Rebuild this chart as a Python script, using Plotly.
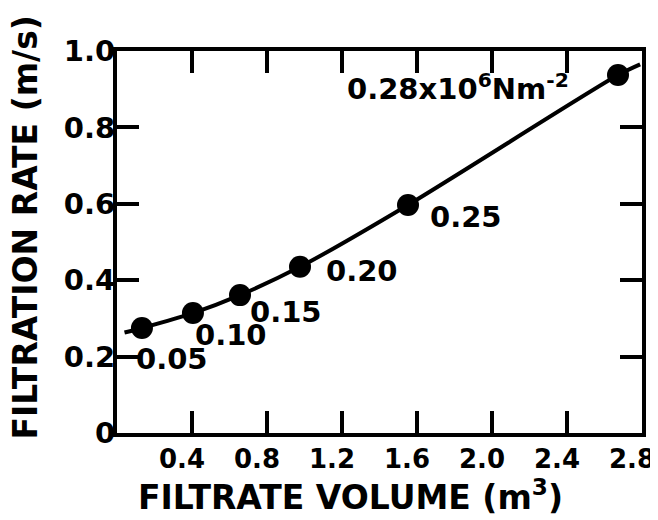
import plotly.graph_objects as go

# Data
volume = [0.133, 0.405, 0.656, 0.976, 1.552, 2.672]          # m3
rate = [0.275, 0.314, 0.361, 0.435, 0.597, 0.937]            # m/s
pressure_labels = ["0.05", "0.10", "0.15", "0.20", "0.25",
                   "0.28x10<sup>6</sup>Nm<sup>-2</sup>"]

# Smooth fitted curve (drawn through the points, extended slightly at both ends)
curve_x = [0.04, 0.133, 0.405, 0.656, 0.976, 1.552, 2.672, 2.79]
curve_y = [0.263, 0.275, 0.314, 0.361, 0.435, 0.597, 0.937, 0.965]

x_ticks = [0.4, 0.8, 1.2, 1.6, 2.0, 2.4, 2.8]
x_ticktext = ["0.4", "0.8", "1.2", "1.6", "2.0", "2.4", "2.8"]
y_ticks = [0, 0.2, 0.4, 0.6, 0.8, 1.0]
y_ticktext = ["0", "0.2", "0.4", "0.6", "0.8", "1.0"]

FONT = "DejaVu Sans"

fig = go.Figure()
fig.add_trace(go.Scatter(x=curve_x, y=curve_y, mode="lines",
                         line=dict(color="black", width=4, shape="spline", smoothing=0.8),
                         hoverinfo="skip", showlegend=False))
fig.add_trace(go.Scatter(x=volume, y=rate, mode="markers",
                         marker=dict(color="black", size=22),
                         showlegend=False))

# label offsets (pixels) relative to each point: (xshift, yshift)
offsets = [(30, -31), (38, -22), (46, -17), (62, -4), (58, -12), (-160, -12)]
for xv, yv, lab, (dx, dy) in zip(volume, rate, pressure_labels, offsets):
    fig.add_annotation(x=xv, y=yv, xref="x", yref="y", text=lab, showarrow=False,
                       xshift=dx, yshift=dy, xanchor="center", yanchor="middle",
                       font=dict(family=FONT, size=29, color="black", weight="bold"))

fig.add_annotation(text="FILTRATE VOLUME (m<sup>3</sup>)", xref="paper", yref="paper",
                   x=0.445, y=-0.163, showarrow=False, xanchor="center", yanchor="middle",
                   font=dict(family=FONT, size=33, color="black", weight="bold"))
fig.add_annotation(text="FILTRATION RATE (m/s)", xref="paper", yref="paper",
                   x=-0.174, y=0.537, showarrow=False, textangle=-90,
                   xanchor="center", yanchor="middle",
                   font=dict(family=FONT, size=33, color="black", weight="bold"))

axis_common = dict(showgrid=False, zeroline=False, showline=True, linecolor="black",
                   linewidth=4, mirror="ticks", ticks="inside", ticklen=22,
                   tickwidth=4, tickcolor="black", automargin=False)

fig.update_xaxes(range=[0, 2.8], tickvals=x_ticks, ticktext=x_ticktext,
                 ticklabelshift=-10, ticklabelstandoff=0,
                 tickfont=dict(family=FONT, size=26, color="black", weight="bold"),
                 **axis_common)
fig.update_yaxes(range=[0, 1.0], tickvals=y_ticks, ticktext=y_ticktext,
                 ticklabelstandoff=-8,
                 tickfont=dict(family=FONT, size=29, color="black", weight="bold"),
                 **axis_common)

# The page body has an 8px default margin; sizes below compensate for it.
fig.update_layout(width=650, height=512, plot_bgcolor="white", paper_bgcolor="white",
                  margin=dict(l=109, r=16, t=43, b=87), showlegend=False)

fig.write_html("out.html")
